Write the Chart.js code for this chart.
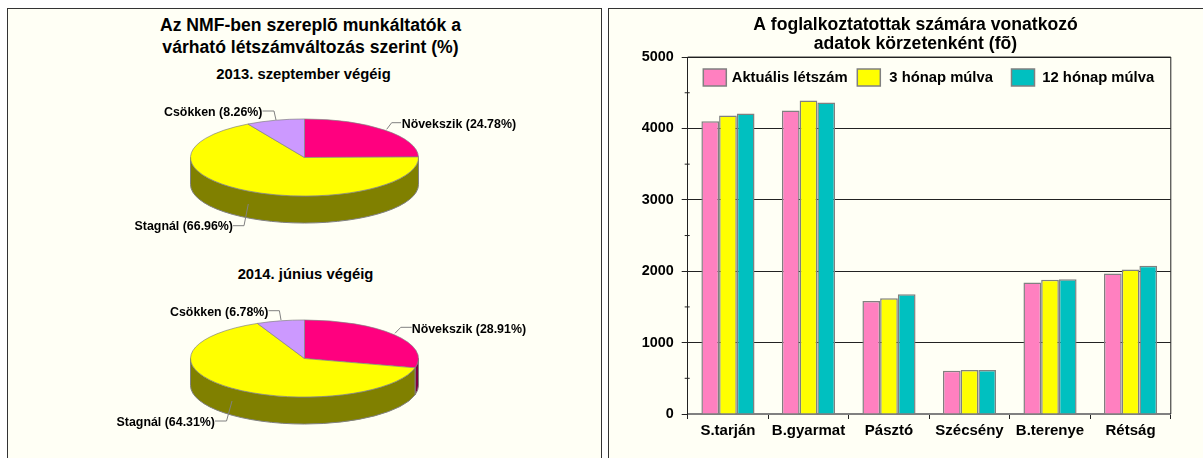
<!DOCTYPE html>
<html>
<head>
<meta charset="utf-8">
<script src="https://cdn.jsdelivr.net/npm/chart.js@4"></script>
<style>
  html, body { margin: 0; padding: 0; background: #fff; overflow: hidden; }
  body { width: 1203px; height: 458px; position: relative; font-family: "Liberation Sans", Arial, sans-serif; }
  .panel { position: absolute; top: 8px; height: 470px; background: #fffff5; border: 1px solid #333; box-sizing: border-box; }
  #leftPanel { left: 7px; width: 595px; }
  #rightPanel { left: 608px; width: 620px; }
  canvas { position: absolute; }
  .head { position: absolute; width: 595px; text-align: center; font-weight: bold; color: #000; }
</style>
</head>
<body>
<div class="panel" id="leftPanel"></div>
<div class="panel" id="rightPanel"></div>
<div class="head" style="left:13px;top:15px;font-size:17.6px;line-height:21.5px">Az NMF-ben szereplõ munkáltatók a<br>várható létszámváltozás szerint (%)</div>
<div class="head" style="left:6px;top:66px;font-size:14.8px;line-height:16px">2013. szeptember végéig</div>
<div class="head" style="left:8px;top:266px;font-size:14.8px;line-height:16px">2014. június végéig</div>
<canvas id="pie2013" style="left:7px;top:43px"></canvas>
<canvas id="pie2014" style="left:7px;top:244px"></canvas>
<canvas id="bars" style="left:609px;top:9px"></canvas>
<script>
const pieCategories = ['Növekszik', 'Stagnál', 'Csökken'];
const shares2013 = [24.78, 66.96, 8.26];
const shares2014 = [28.91, 64.31, 6.78];

const districts = ['S.tarján', 'B.gyarmat', 'Pásztó', 'Szécsény', 'B.terenye', 'Rétság'];
const currentStaff = [4100, 4250, 1584, 607, 1841, 1967];
const after3Months = [4180, 4390, 1621, 617, 1879, 2023];
const after12Months = [4210, 4365, 1678, 617, 1888, 2075];

const pieColors = ['#ff007f', '#ffff00', '#cc99ff'];
const wallColors = ['#800040', '#808000', '#664c80'];
const squash = 0.338;
const depth = 27;

// label anchor and leader line per slice, canvas px
const labels2013 = [
  { x: 394.7, y: 82, align: 'left', line: [[379.7, 86.3], [384.7, 79.7], [394, 79.7]] },
  { x: 226, y: 183.7, align: 'right', line: [[226, 182.7], [237, 182.7], [241.3, 161]] },
  { x: 255.5, y: 69.7, align: 'right', line: [[255.5, 68], [267, 68], [269, 77]] }
];
const labels2014 = [
  { x: 404.7, y: 86, align: 'left', line: [[388, 89.3], [393.8, 83.3], [404.7, 83.3]] },
  { x: 208, y: 178.7, align: 'right', line: [[208, 177], [219.5, 177], [225, 157]] },
  { x: 261.5, y: 68.7, align: 'right', line: [[261.5, 66.7], [272.4, 66.7], [274, 76]] }
];

function arcRange(ctx, a, start, end) {
  ctx.ellipse(a.x, a.y, a.outerRadius, a.outerRadius * squash, 0, start, end);
}

// flattens the pie and puts the wall under it
const tiltPlugin = {
  id: 'tilt',
  beforeDatasetsDraw(chart) {
    const ctx = chart.ctx;
    const arcs = chart.getDatasetMeta(0).data;
    arcs.forEach((a, i) => {
      const start = Math.max(a.startAngle, 0);
      const end = Math.min(a.endAngle, Math.PI);
      if (end <= start) return;
      ctx.beginPath();
      arcRange(ctx, a, start, end);
      ctx.ellipse(a.x, a.y + depth, a.outerRadius, a.outerRadius * squash, 0, end, start, true);
      ctx.closePath();
      ctx.fillStyle = wallColors[i];
      ctx.fill();
      ctx.strokeStyle = '#808080';
      ctx.lineWidth = 1;
      ctx.stroke();
    });
    const c = arcs[0];
    ctx.save();
    ctx.translate(c.x, c.y);
    ctx.scale(1, squash);
    ctx.translate(-c.x, -c.y);
  },
  afterDatasetsDraw(chart, args, opts) {
    const ctx = chart.ctx;
    ctx.restore();
    ctx.strokeStyle = '#808080';
    ctx.lineWidth = 1;
    ctx.font = 'bold 12.4px "Liberation Sans"';
    ctx.fillStyle = '#000';
    ctx.textBaseline = 'middle';
    const data = chart.data.datasets[0].data;
    opts.items.forEach((item, i) => {
      ctx.beginPath();
      item.line.forEach((p, k) => k ? ctx.lineTo(p[0], p[1]) : ctx.moveTo(p[0], p[1]));
      ctx.stroke();
      ctx.textAlign = item.align;
      ctx.fillText(chart.data.labels[i] + ' (' + data[i].toFixed(2) + '%)', item.x, item.y);
    });
  }
};

function makePie(id, shares, items) {
  return new Chart(document.getElementById(id), {
    type: 'pie',
    data: {
      labels: pieCategories,
      datasets: [{ data: shares, backgroundColor: pieColors, borderColor: '#808080', borderWidth: 1 }]
    },
    options: {
      responsive: false,
      animation: false,
      plugins: { legend: { display: false }, tooltip: { enabled: false }, tilt: { items: items } }
    },
    plugins: [tiltPlugin]
  });
}

function sizeCanvas(id, w, h) {
  const c = document.getElementById(id);
  c.width = w;
  c.height = h;
  c.style.width = w + 'px';
  c.style.height = h + 'px';
}
sizeCanvas('pie2013', 595, 229);
sizeCanvas('pie2014', 595, 229);
sizeCanvas('bars', 613, 449);

makePie('pie2013', shares2013, labels2013);
makePie('pie2014', shares2014, labels2014);

// legend sits inside the plot, so it is drawn here; also the frame and the short 500 ticks
const insideLegend = {
  id: 'insideLegend',
  beforeDraw(chart) {
    // title centred on the whole canvas, not on the padded width
    chart.titleBlock.left = 0;
    chart.titleBlock.right = chart.width;
  },
  beforeDatasetsDraw(chart) {
    const ctx = chart.ctx;
    const a = chart.chartArea;
    ctx.strokeStyle = '#222';
    ctx.lineWidth = 1;
    ctx.beginPath();
    ctx.moveTo(a.left, a.top);
    ctx.lineTo(a.right, a.top);
    ctx.lineTo(a.right, a.bottom);
    ctx.stroke();
    const y = chart.scales.y;
    ctx.beginPath();
    y.ticks.forEach(t => {
      if (t.value % 1000 === 0) return;
      const py = y.getPixelForValue(t.value);
      ctx.moveTo(a.left - 3, py);
      ctx.lineTo(a.left + 2, py);
    });
    ctx.stroke();
  },
  afterDraw(chart, args, opts) {
    const ctx = chart.ctx;
    ctx.font = 'bold 14.8px "Liberation Sans"';
    ctx.textBaseline = 'middle';
    ctx.textAlign = 'left';
    chart.data.datasets.forEach((d, i) => {
      const x = opts.x[i];
      ctx.fillStyle = d.backgroundColor;
      ctx.strokeStyle = '#808080';
      ctx.lineWidth = 1.5;
      ctx.fillRect(x, opts.y, 23, 17);
      ctx.strokeRect(x, opts.y, 23, 17);
      ctx.fillStyle = '#000';
      ctx.fillText(d.label, opts.textX[i], opts.y + 8.5);
    });
  }
};

new Chart(document.getElementById('bars'), {
  type: 'bar',
  data: {
    labels: districts,
    datasets: [
      { label: 'Aktuális létszám', data: currentStaff, backgroundColor: '#ff80c0' },
      { label: '3 hónap múlva', data: after3Months, backgroundColor: '#ffff00' },
      { label: '12 hónap múlva', data: after12Months, backgroundColor: '#00c0c0' }
    ]
  },
  options: {
    responsive: false,
    animation: false,
    datasets: {
      bar: { categoryPercentage: 0.66, barPercentage: 1, borderColor: '#808080', borderWidth: 1.5 }
    },
    layout: { padding: { top: 0, left: 0, right: 51.2, bottom: 0 } },
    scales: {
      x: {
        afterFit: s => { s.height = 44; },
        grid: { drawOnChartArea: false, color: '#222', tickLength: 5 },
        border: { color: '#808080', width: 2 },
        ticks: { color: '#000', padding: 3, font: { family: 'Liberation Sans', weight: 'bold', size: 15 }, maxRotation: 0, autoSkip: false }
      },
      y: {
        min: 0,
        max: 5000,
        afterFit: s => { s.width = 78.7; },
        ticks: {
          stepSize: 500,
          color: '#000',
          autoSkip: false,
          padding: 8,
          font: { family: 'Liberation Sans', weight: 'bold', size: 14.4 },
          callback: v => (v % 1000 === 0 ? v : '')
        },
        grid: {
          color: c => (c.tick.value % 1000 === 0 && c.tick.value > 0 ? '#222' : 'rgba(0,0,0,0)'),
          tickColor: c => (c.tick.value % 1000 === 0 ? '#222' : 'rgba(0,0,0,0)'),
          tickLength: 6
        },
        border: { color: '#222' }
      }
    },
    plugins: {
      legend: { display: false },
      tooltip: { enabled: false },
      title: {
        display: true,
        text: ['A foglalkoztatottak számára vonatkozó', 'adatok körzetenként (fõ)'],
        color: '#000',
        font: { family: 'Liberation Sans', weight: 'bold', size: 17.6, lineHeight: 1.11 },
        padding: { top: 6, bottom: 3 }
      },
      insideLegend: { x: [94.3, 248.3, 402.5], textX: [122.7, 280.3, 433.3], y: 60 }
    }
  },
  plugins: [insideLegend]
});
</script>
</body>
</html>
